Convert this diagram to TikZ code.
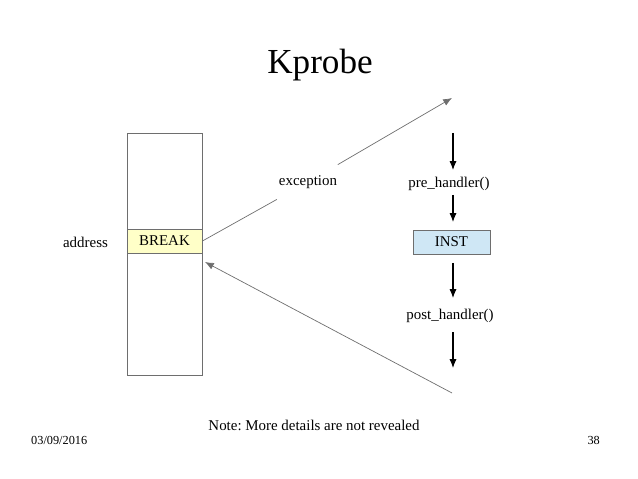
\documentclass[tikz,border=0pt]{standalone}
\usepackage{fontspec}
\setmainfont{Liberation Serif}
\usetikzlibrary{arrows.meta,positioning}
\definecolor{brkYellow}{RGB}{255,255,200}
\definecolor{instBlue} {RGB}{207,231,245}
\definecolor{edgeGray} {RGB}{110,110,110}
\frenchspacing

\begin{document}
\begin{tikzpicture}[x=0.02cm,y=-0.02cm,
    lbl/.style={font=\fontsize{8.5}{10}\selectfont,inner sep=1pt},
    cell/.style={draw=edgeGray,line width=0.5pt,minimum height=0.48cm,
                 inner sep=0pt,font=\fontsize{8.5}{10}\selectfont},
    flow/.style={-{Latex[length=5pt,width=4pt]},black,line width=0.6pt},
    trap/.style={-{Latex[length=5pt,width=4pt]},edgeGray,line width=0.4pt}]

    \useasboundingbox (0,0) rectangle (638,479);

    % -- titel ------------------------------------------
    \node[font=\fontsize{20}{24}\selectfont] (title) at (320,65){Kprobe};

    % -- geheugen met breakpoint ------------------------
    \draw[edgeGray,line width=0.5pt] (127,133) rectangle (202,375);
    \node[cell,fill=brkYellow,minimum width=1.5cm] (brk) at (164.5,241){BREAK};
    \node[lbl,anchor=east] (addr) at (110,242){address};

    % -- handler keten ----------------------------------
    \node[lbl] (pre)  at (449,184){pre\_handler()};
    \node[cell,fill=instBlue,minimum width=1.54cm] (inst) at (451.5,242){INST};
    \node[lbl] (post) at (450,316){post\_handler()};

    \foreach \a/\b in {133/170,195/222,263/298,332/368}{
      \coordinate (s\a) at (453,\a);
      \coordinate (e\a) at (453,\b);
      \draw[flow] (s\a) -- (e\a);
    }

    % -- trap en terugkeer ------------------------------
    \coordinate (trapTip) at (452,98);
    \coordinate (retStart) at (452,393);
    \coordinate (retTip) at (205,262);
    \node[lbl,inner sep=6pt] (exc) at (308,182){exception};
    \draw[edgeGray,line width=0.4pt] (brk.east) -- (exc);
    \draw[trap] (exc) -- (trapTip);
    \draw[trap] (retStart) -- (retTip);

    % -- voetregel --------------------------------------
    \node[lbl] (note) at (314,425){Note: More details are not revealed};
    \node[font=\fontsize{7}{8}\selectfont,anchor=west] (date) at (25,440){03/09/2016};
    \node[font=\fontsize{7}{8}\selectfont,anchor=east] (page) at (606,440){38};

\end{tikzpicture}
\end{document}
